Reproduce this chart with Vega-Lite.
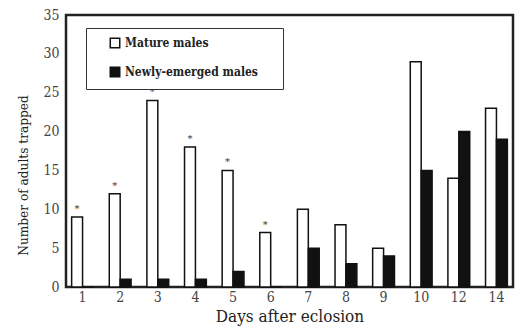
{
  "$schema": "https://vega.github.io/schema/vega-lite/v6.json",
  "width": 447,
  "height": 272,
  "autosize": {"type": "none"},
  "padding": {"left": 66, "top": 15, "right": 9, "bottom": 48},
  "background": "white",
  "config": {
    "font": "DejaVu Serif Condensed, DejaVu Serif",
    "view": {"stroke": "#222", "strokeWidth": 2.5},
    "axis": {"domain": false, "ticks": false, "grid": false, "labelFont": "DejaVu Serif Condensed, DejaVu Serif", "titleFont": "DejaVu Serif Condensed, DejaVu Serif"},
    "legend": {"labelFont": "DejaVu Serif Condensed, DejaVu Serif", "titleFont": "DejaVu Serif Condensed, DejaVu Serif"},
    "text": {"font": "DejaVu Serif"}
  },
  "data": {
    "values": [
      {"day": 1, "group": "Mature males", "count": 9, "sig": "*"},
      {"day": 2, "group": "Mature males", "count": 12, "sig": "*"},
      {"day": 3, "group": "Mature males", "count": 24, "sig": "*"},
      {"day": 4, "group": "Mature males", "count": 18, "sig": "*"},
      {"day": 5, "group": "Mature males", "count": 15, "sig": "*"},
      {"day": 6, "group": "Mature males", "count": 7, "sig": "*"},
      {"day": 7, "group": "Mature males", "count": 10, "sig": ""},
      {"day": 8, "group": "Mature males", "count": 8, "sig": ""},
      {"day": 9, "group": "Mature males", "count": 5, "sig": ""},
      {"day": 10, "group": "Mature males", "count": 29, "sig": ""},
      {"day": 12, "group": "Mature males", "count": 14, "sig": ""},
      {"day": 14, "group": "Mature males", "count": 23, "sig": ""},
      {"day": 1, "group": "Newly-emerged males", "count": 0, "sig": ""},
      {"day": 2, "group": "Newly-emerged males", "count": 1, "sig": ""},
      {"day": 3, "group": "Newly-emerged males", "count": 1, "sig": ""},
      {"day": 4, "group": "Newly-emerged males", "count": 1, "sig": ""},
      {"day": 5, "group": "Newly-emerged males", "count": 2, "sig": ""},
      {"day": 6, "group": "Newly-emerged males", "count": 0, "sig": ""},
      {"day": 7, "group": "Newly-emerged males", "count": 5, "sig": ""},
      {"day": 8, "group": "Newly-emerged males", "count": 3, "sig": ""},
      {"day": 9, "group": "Newly-emerged males", "count": 4, "sig": ""},
      {"day": 10, "group": "Newly-emerged males", "count": 15, "sig": ""},
      {"day": 12, "group": "Newly-emerged males", "count": 20, "sig": ""},
      {"day": 14, "group": "Newly-emerged males", "count": 19, "sig": ""}
    ]
  },
  "encoding": {
    "x": {
      "field": "day", "type": "ordinal",
      "scale": {"paddingInner": 0.42, "paddingOuter": 0.15},
      "axis": {"title": "Days after eclosion", "labelAngle": 0, "labelFontSize": 14, "labelColor": "#444", "labelPadding": 3, "titleFontSize": 17, "titleFontWeight": "normal", "titleColor": "#222", "titlePadding": 4}
    },
    "xOffset": {"field": "group", "type": "nominal", "sort": ["Mature males", "Newly-emerged males"], "scale": {"paddingInner": 0}},
    "y": {
      "field": "count", "type": "quantitative",
      "scale": {"domain": [0, 35], "nice": false},
      "axis": {"title": "Number of adults trapped", "values": [0, 5, 10, 15, 20, 25, 30, 35], "labelFontSize": 14, "labelColor": "#444", "labelPadding": 7, "titleFontSize": 13.5, "titleFontWeight": "normal", "titleColor": "#222", "titlePadding": 12, "titleY": 160}
    }
  },
  "layer": [
    {
      "mark": {"type": "bar", "stroke": "#111", "strokeWidth": 1.5},
      "encoding": {
        "fill": {
          "field": "group", "type": "nominal",
          "scale": {"domain": ["Mature males", "Newly-emerged males"], "range": ["white", "#111"]},
          "legend": {
            "title": " ", "titleOrient": "right", "titlePadding": 16, "titleFontSize": 6,
            "orient": "none", "legendX": 20, "legendY": 13,
            "strokeColor": "#333", "fillColor": "white", "padding": 9,
            "symbolType": "square", "symbolSize": 90, "symbolStrokeColor": "#111", "symbolStrokeWidth": 1.5,
            "symbolOffset": 14, "labelOffset": 4,
            "labelFontSize": 12, "labelFontWeight": "bold", "labelColor": "#222",
            "rowPadding": 13
          }
        }
      }
    },
    {
      "transform": [{"filter": "datum.sig == '*'"}],
      "mark": {"type": "text", "baseline": "top", "dy": -13, "fontSize": 10, "color": "#333"},
      "encoding": {"text": {"field": "sig"}}
    }
  ]
}
